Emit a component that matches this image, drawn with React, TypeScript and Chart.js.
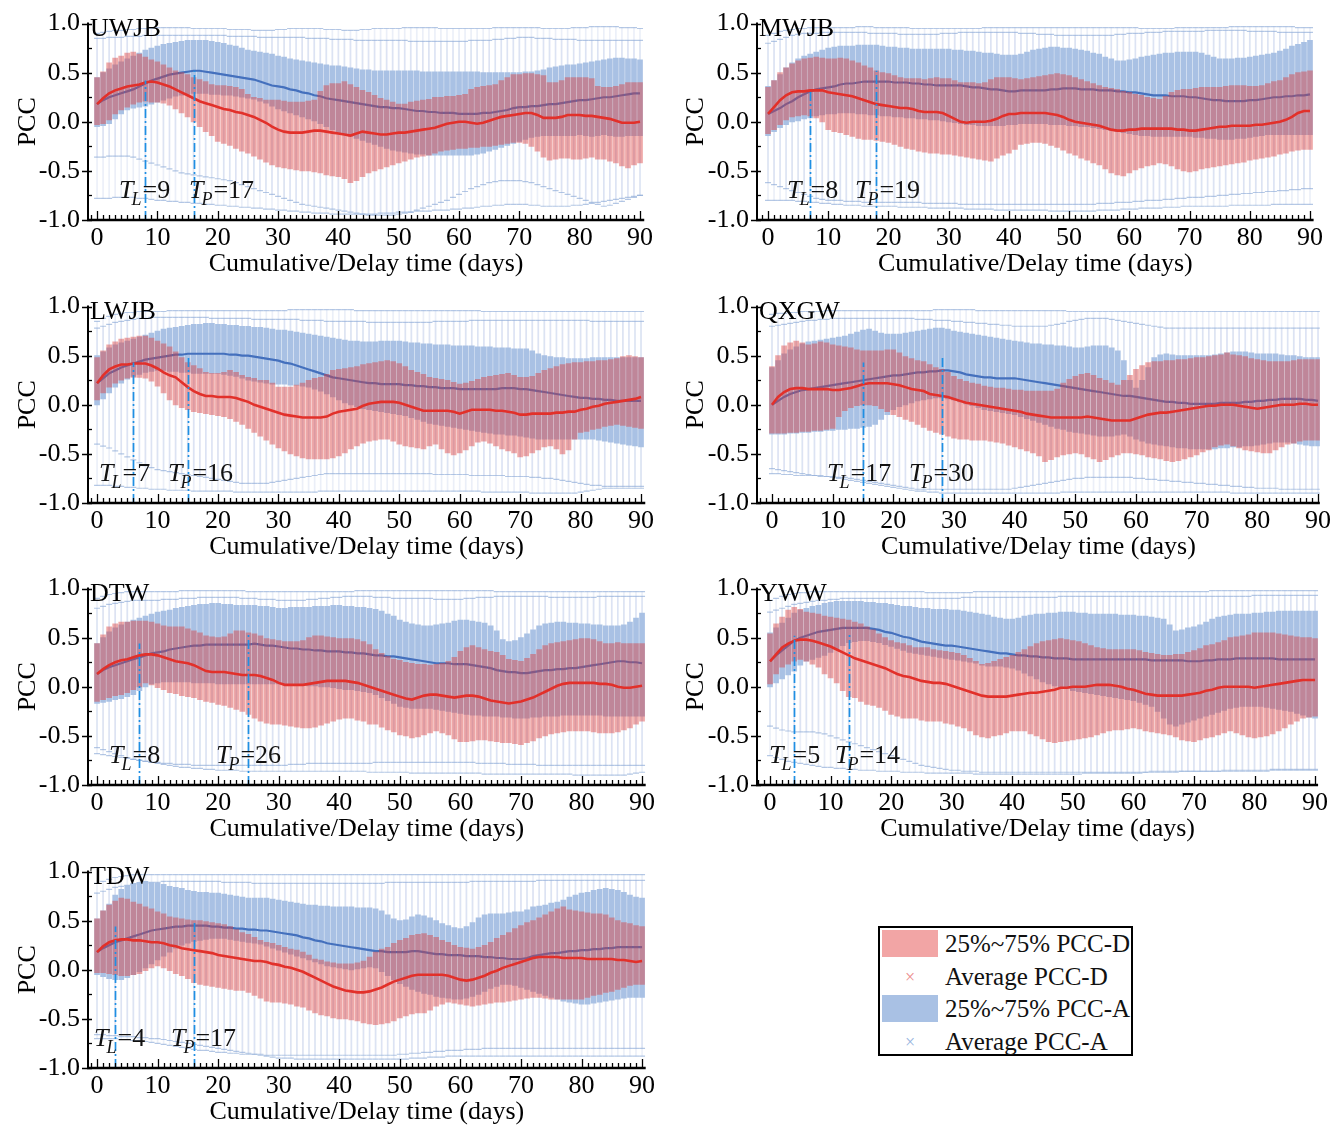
import React, { useEffect, useRef } from "react";
import { Chart, registerables } from "chart.js";

Chart.register(...registerables);

// ---------------- DATA (PCC values in hundredths, one value per day 0..90) ----------------
const DAYS = Array.from({ length: 91 }, (_, i) => i);
const PANEL_NAMES = ["UWJB", "MWJB", "LWJB", "QXGW", "DTW", "YWW", "TDW"];
const T_L = [9, 8, 7, 17, 8, 5, 4];
const T_P = [17, 19, 16, 30, 26, 14, 17];
const T_L_DAY = [8, 7, 6, 15, 7, 4, 3];
const T_P_DAY = [16, 18, 15, 28, 25, 13, 16];
const T_L_TOP = [0.42, 0.33, 0.43, 0.43, 0.44, 0.52, 0.44];
const T_P_TOP = [0.52, 0.52, 0.48, 0.48, 0.54, 0.54, 0.5];
const X_TICKS = [0, 10, 20, 30, 40, 50, 60, 70, 80, 90];
const Y_TICKS = [-1, -0.5, 0, 0.5, 1];
const X_TITLE = "Cumulative/Delay time (days)";
const Y_TITLE = "PCC";

// ---- UWJB ----
const UWJB_D_Q3 = [45,51,60,65,67,70,71,69,66,63, 61,58,55,52,50,48,45,43,41,38, 37,37,36,35,33,28,25,24,22,22, 22,21,20,20,20,21,22,31,37,39, 39,41,38,35,32,30,27,24,22,20, 18,18,20,21,22,23,25,25,26,26, 27,28,33,35,36,37,38,42,45,48, 48,49,49,48,47,40,40,42,45,45, 45,45,44,36,35,35,36,38,40,40, 40];
const UWJB_D_Q1 = [-3,-2,2,8,12,15,18,20,21,20, 20,19,17,13,9,5,0,-5,-10,-14, -20,-22,-24,-27,-30,-32,-35,-38,-41,-44, -46,-47,-48,-49,-50,-50,-51,-52,-54,-55, -56,-58,-62,-60,-56,-52,-50,-48,-46,-44, -42,-40,-38,-36,-35,-34,-32,-30,-29,-28, -27,-27,-26,-26,-25,-25,-24,-23,-22,-21, -21,-22,-25,-30,-36,-39,-38,-37,-37,-38, -38,-37,-36,-38,-38,-40,-42,-45,-47,-44, -42];
const UWJB_A_Q3 = [45,50,54,58,61,64,67,70,73,75, 77,79,80,81,82,83,83,83,83,82, 81,80,78,77,75,73,72,71,70,69, 67,66,64,63,62,61,60,59,58,57, 57,56,55,54,53,53,52,52,52,52, 52,52,52,52,51,51,51,51,51,51, 51,51,51,51,50,50,50,50,50,50, 50,51,51,52,53,55,56,57,58,58, 59,60,61,62,63,64,65,65,64,64, 63];
const UWJB_A_Q1 = [-5,-4,-2,3,8,12,14,15,16,18, 20,22,24,26,27,28,29,29,29,28, 28,27,27,26,25,24,23,21,19,16, 13,11,9,7,5,3,1,-2,-5,-8, -11,-13,-15,-17,-19,-21,-23,-25,-27,-29, -30,-31,-32,-33,-33,-34,-34,-34,-34,-34, -34,-34,-34,-33,-32,-30,-28,-26,-24,-22, -20,-18,-16,-15,-14,-14,-14,-14,-14,-14, -13,-14,-15,-14,-13,-14,-15,-15,-14,-14, -14];
const UWJB_D_AVG = [18,24,29,32,34,36,37,38,40,41, 40,38,36,33,30,27,24,21,19,17, 15,13,12,10,9,7,5,2,-1,-5, -8,-10,-11,-11,-11,-10,-9,-9,-10,-11, -12,-13,-14,-12,-10,-11,-12,-13,-13,-12, -11,-11,-10,-9,-8,-7,-6,-4,-2,-1, 0,0,-1,-2,-1,1,3,5,6,7, 8,9,9,7,4,4,4,5,7,7, 7,6,6,5,4,3,1,-1,-1,-1, 0];
const UWJB_A_AVG = [18,22,25,27,29,31,33,36,39,42, 44,46,48,49,50,51,52,52,51,50, 49,48,47,46,45,44,43,41,39,37, 36,35,33,32,30,29,27,26,24,23, 22,21,20,19,18,17,16,15,15,14, 14,13,12,11,11,10,10,9,9,9, 8,8,8,8,9,9,10,11,12,14, 15,15,16,16,17,18,18,19,20,21, 22,22,23,24,25,25,26,27,28,29, 29];
const UWJB_A_MAX = [90,91,92,93,93,94,94,95,95,95, 96,96,96,96,96,96,95,95,95,95, 95,95,94,94,94,94,93,93,93,93, 94,94,95,95,95,95,95,95,94,94, 94,93,93,93,94,94,95,95,95,95, 95,96,96,96,96,96,96,95,95,95, 95,95,95,95,95,95,96,96,96,96, 96,96,96,96,95,95,95,95,95,96, 96,96,97,97,97,97,97,96,96,96, 95];
const UWJB_D_MAX = [85,85,86,86,86,87,87,87,88,88, 88,88,88,88,88,88,88,88,88,88, 88,88,87,87,87,87,87,86,86,86, 86,86,86,86,86,85,85,85,85,84, 84,84,84,83,83,83,83,83,83,83, 83,83,82,82,82,82,82,82,82,82, 82,82,83,83,83,83,84,84,85,85, 86,86,86,85,85,85,84,84,84,84, 83,83,83,83,83,83,83,83,83,83, 83];
const UWJB_A_MIN = [-78,-78,-78,-77,-77,-77,-77,-78,-78,-79, -80,-80,-81,-81,-82,-82,-83,-83,-84,-84, -85,-85,-86,-86,-87,-87,-88,-88,-89,-89, -90,-90,-91,-91,-92,-92,-93,-93,-93,-94, -94,-94,-94,-94,-94,-94,-94,-93,-93,-93, -92,-92,-92,-91,-91,-91,-90,-90,-90,-89, -89,-88,-88,-87,-86,-86,-85,-85,-84,-84, -84,-84,-85,-85,-86,-86,-86,-86,-86,-85, -85,-84,-83,-82,-81,-80,-79,-78,-77,-76, -75];
const UWJB_D_MIN = [-36,-36,-35,-35,-35,-35,-36,-38,-40,-42, -44,-46,-48,-50,-52,-53,-54,-55,-56,-57, -58,-59,-60,-62,-64,-66,-68,-70,-72,-74, -76,-78,-80,-82,-84,-85,-86,-87,-88,-89, -90,-91,-92,-93,-94,-95,-95,-95,-95,-95, -94,-93,-92,-90,-88,-86,-84,-82,-80,-77, -74,-71,-68,-66,-64,-62,-61,-60,-60,-60, -60,-61,-62,-64,-66,-68,-70,-72,-74,-76, -78,-80,-82,-84,-86,-85,-83,-81,-79,-77, -75];

// ---- MWJB ----
const MWJB_D_Q3 = [35,42,50,55,59,62,64,65,66,65, 64,64,65,64,62,60,57,55,52,50, 49,47,45,44,44,44,43,44,45,44, 44,42,40,40,40,39,40,43,45,45, 45,44,43,44,45,46,47,48,49,48, 47,45,43,41,39,37,35,34,33,31, 30,28,27,25,24,23,26,30,32,33, 33,34,35,35,35,35,36,37,37,37, 36,36,37,39,41,42,45,48,50,51, 52];
const MWJB_D_Q1 = [-12,-8,-3,2,5,6,7,6,4,0, -8,-10,-11,-13,-15,-17,-18,-18,-19,-20, -21,-23,-25,-27,-28,-30,-31,-32,-32,-33, -33,-34,-35,-36,-37,-38,-39,-40,-37,-34, -32,-28,-23,-22,-21,-21,-22,-24,-26,-29, -32,-34,-37,-39,-42,-44,-48,-52,-54,-55, -52,-49,-47,-45,-44,-42,-43,-45,-48,-50, -51,-50,-48,-47,-46,-45,-44,-43,-42,-41, -39,-38,-37,-36,-35,-33,-32,-30,-29,-28, -28];
const MWJB_A_Q3 = [36,42,48,55,60,64,67,69,71,73, 75,76,77,77,77,78,78,78,78,77, 76,76,75,75,74,74,74,74,74,74, 74,73,73,72,72,71,70,70,69,68, 68,68,69,71,73,74,75,76,76,75, 75,74,73,72,70,69,66,64,62,62, 63,64,66,67,68,69,70,70,71,71, 71,71,70,68,66,64,64,64,65,65, 66,67,68,69,70,72,74,77,79,81, 83];
const MWJB_A_Q1 = [-14,-10,-6,-3,0,1,3,4,6,7, 8,8,9,9,9,8,8,7,7,6, 6,5,5,4,4,3,3,2,2,1, 0,-1,-2,-3,-3,-4,-4,-4,-4,-4, -3,-3,-2,-2,-2,-2,-2,-3,-3,-3, -4,-4,-5,-5,-6,-7,-8,-9,-10,-11, -12,-13,-14,-14,-15,-15,-15,-15,-15,-15, -15,-16,-16,-17,-17,-18,-18,-18,-17,-17, -16,-15,-14,-13,-13,-13,-13,-13,-13,-13, -13];
const MWJB_D_AVG = [8,15,22,27,30,31,31,32,32,32, 30,29,28,27,26,24,22,20,18,17, 16,15,14,14,13,11,10,10,10,9, 6,3,0,-1,0,0,0,1,3,6, 8,8,9,9,9,9,9,8,7,5, 2,0,-1,-2,-3,-4,-6,-8,-9,-9, -8,-8,-7,-7,-7,-7,-7,-7,-8,-8, -9,-9,-8,-7,-6,-5,-5,-4,-4,-4, -4,-3,-3,-2,-1,0,2,5,9,11, 11];
const MWJB_A_AVG = [8,11,14,18,21,25,28,31,33,34, 35,36,38,39,39,40,41,41,41,41, 41,40,40,40,39,39,38,38,37,37, 37,37,37,36,35,35,34,33,33,32, 31,31,32,32,32,32,32,33,33,34, 34,34,33,33,33,32,32,32,31,31, 30,30,29,28,27,27,27,26,26,26, 25,25,24,23,22,22,21,21,21,21, 22,22,23,24,25,25,26,26,27,27, 28];
const MWJB_A_MAX = [88,90,92,93,94,95,95,96,96,96, 96,96,96,96,96,97,97,97,96,96, 96,96,96,96,95,95,95,95,95,95, 95,95,95,95,95,95,96,96,96,96, 96,96,96,96,96,96,96,96,96,96, 96,96,96,96,96,96,96,96,96,96, 96,96,95,95,95,95,95,95,96,96, 96,96,96,96,96,96,96,97,97,97, 97,97,97,97,97,97,97,97,96,96, 96];
const MWJB_D_MAX = [80,82,84,86,88,89,90,90,90,91, 91,91,91,91,91,91,91,90,90,90, 90,90,89,89,89,89,89,89,89,90, 90,90,91,91,91,91,91,91,91,91, 91,91,90,90,90,89,89,89,88,88, 88,88,88,88,88,88,88,88,89,89, 90,90,90,91,91,91,92,92,92,92, 92,92,92,93,93,93,93,93,93,93, 92,92,92,92,92,91,91,91,91,91, 91];
const MWJB_A_MIN = [-80,-80,-80,-80,-80,-81,-81,-82,-82,-83, -83,-84,-84,-85,-85,-85,-86,-86,-86,-86, -86,-86,-87,-87,-87,-87,-87,-88,-88,-88, -88,-88,-88,-89,-89,-89,-89,-89,-90,-90, -90,-90,-90,-90,-90,-90,-90,-91,-91,-91, -91,-91,-91,-91,-91,-90,-90,-90,-90,-89, -89,-89,-88,-88,-88,-88,-87,-87,-87,-86, -86,-86,-86,-86,-86,-86,-86,-85,-85,-85, -85,-85,-85,-85,-84,-84,-84,-84,-84,-84, -84];
const MWJB_D_MIN = [-62,-64,-66,-68,-70,-72,-74,-76,-78,-79, -80,-80,-80,-81,-81,-81,-82,-82,-82,-82, -82,-82,-82,-82,-82,-82,-83,-83,-83,-83, -83,-83,-84,-84,-84,-84,-84,-84,-84,-84, -84,-84,-84,-84,-84,-84,-84,-84,-84,-84, -84,-84,-84,-84,-84,-83,-83,-83,-82,-82, -82,-81,-81,-80,-80,-80,-79,-79,-78,-78, -77,-77,-77,-76,-76,-75,-75,-74,-74,-73, -73,-72,-72,-71,-71,-70,-70,-69,-69,-68, -68];

// ---- LWJB ----
const LWJB_D_Q3 = [48,55,61,64,67,68,69,70,70,68, 65,62,59,54,48,43,40,37,33,32, 32,33,35,33,30,28,27,25,25,22, 18,18,18,20,22,25,27,28,31,35, 36,37,38,39,41,42,43,44,45,44, 42,39,35,33,31,28,27,26,25,23, 21,22,24,26,28,29,30,31,32,30, 28,28,29,32,35,37,39,41,42,43, 43,44,44,45,45,46,47,49,50,49, 48];
const LWJB_D_Q1 = [5,12,18,22,25,27,28,28,27,24, 19,12,5,0,-3,-5,-7,-8,-9,-10, -11,-12,-14,-17,-20,-24,-28,-32,-36,-40, -44,-47,-50,-52,-54,-55,-55,-55,-55,-54, -52,-49,-45,-42,-39,-37,-36,-35,-35,-37, -40,-42,-43,-44,-45,-42,-40,-45,-49,-51, -49,-46,-42,-38,-37,-39,-42,-45,-47,-49, -53,-52,-49,-46,-43,-42,-45,-50,-46,-35, -28,-27,-25,-24,-22,-21,-20,-21,-22,-23, -24];
const LWJB_A_Q3 = [50,54,58,61,63,65,67,69,71,73, 75,77,78,79,80,81,82,82,83,83, 82,82,81,81,80,80,79,79,78,77, 76,76,75,74,73,72,71,70,69,68, 67,66,65,65,64,64,64,65,65,65, 65,64,63,63,62,62,61,61,61,60, 60,60,60,59,59,59,58,58,58,57, 57,57,55,52,50,49,48,48,47,47, 47,47,48,48,48,48,48,48,48,48, 48];
const LWJB_A_Q1 = [0,6,12,18,22,26,29,31,33,34, 35,35,34,34,33,33,32,32,32,32, 32,31,30,29,27,25,24,23,22,21, 21,21,20,20,19,18,16,14,11,8, 5,2,0,-2,-4,-5,-6,-7,-8,-9, -10,-11,-13,-15,-17,-19,-20,-21,-22,-23, -24,-25,-26,-27,-28,-29,-30,-30,-31,-31, -32,-33,-34,-35,-35,-35,-35,-35,-35,-35, -35,-35,-35,-36,-37,-38,-39,-40,-41,-42, -43];
const LWJB_D_AVG = [22,30,36,39,41,41,42,42,42,40, 37,33,30,28,23,18,14,11,9,9, 8,8,8,7,5,3,0,-2,-4,-6, -8,-10,-11,-12,-13,-13,-13,-13,-12,-9, -7,-6,-5,-4,-1,1,2,3,3,3, 2,0,-2,-4,-6,-6,-6,-6,-6,-7, -9,-7,-5,-5,-5,-5,-6,-6,-7,-8, -10,-10,-9,-9,-9,-9,-8,-8,-7,-7, -5,-4,-2,-1,1,2,3,4,5,6, 8];
const LWJB_A_AVG = [22,27,32,35,38,40,42,44,46,47, 48,49,50,51,51,52,52,52,52,52, 52,52,51,51,50,50,49,48,47,46, 45,43,42,40,38,36,34,32,30,28, 27,26,25,24,23,22,22,21,21,21, 21,20,20,19,19,18,18,17,17,17, 16,16,16,16,16,16,16,17,17,17, 16,16,15,14,13,12,11,10,9,8, 7,7,6,6,5,5,4,4,4,4, 4];
const LWJB_A_MAX = [85,88,90,92,93,94,94,95,95,95, 95,95,96,96,96,96,96,96,96,96, 96,96,96,96,96,96,96,96,96,96, 96,96,97,97,97,97,97,97,97,97, 97,97,97,96,96,96,96,96,96,96, 96,96,96,96,96,96,96,96,96,96, 96,96,96,96,95,95,95,95,95,95, 95,95,95,95,95,95,95,95,95,95, 95,95,95,95,95,95,95,95,95,95, 95];
const LWJB_D_MAX = [78,80,82,84,85,86,87,88,88,89, 89,89,89,89,89,89,89,89,89,88, 88,88,88,88,88,88,87,87,87,87, 87,87,87,87,86,86,86,86,85,85, 85,85,85,85,85,84,84,84,84,84, 84,84,84,84,84,84,85,85,85,85, 85,85,86,86,86,86,86,86,86,86, 86,86,86,86,86,86,86,86,86,86, 86,86,85,85,85,85,85,85,85,85, 85];
const LWJB_A_MIN = [-82,-82,-82,-83,-83,-84,-84,-85,-85,-86, -86,-86,-87,-87,-87,-87,-88,-88,-88,-88, -88,-88,-88,-89,-89,-89,-89,-89,-89,-89, -89,-89,-89,-89,-89,-89,-89,-88,-88,-88, -88,-88,-88,-88,-88,-88,-88,-88,-88,-88, -88,-88,-88,-88,-88,-88,-88,-88,-88,-88, -88,-88,-88,-88,-89,-89,-89,-89,-89,-89, -89,-89,-90,-90,-90,-90,-90,-90,-90,-90, -89,-88,-87,-86,-85,-85,-85,-85,-85,-85, -85];
const LWJB_D_MIN = [-40,-42,-44,-47,-50,-53,-56,-59,-62,-64, -66,-67,-68,-69,-70,-71,-72,-73,-74,-75, -76,-77,-78,-79,-80,-80,-80,-80,-80,-79, -78,-77,-76,-75,-74,-73,-72,-71,-70,-70, -70,-70,-70,-70,-70,-70,-70,-70,-70,-70, -70,-70,-70,-70,-70,-70,-71,-71,-71,-71, -71,-71,-72,-72,-72,-72,-72,-72,-73,-73, -73,-73,-74,-74,-75,-75,-76,-77,-78,-79, -80,-81,-82,-82,-83,-83,-83,-83,-83,-83, -83];

// ---- QXGW ----
const QXGW_D_Q3 = [39,50,60,63,65,63,61,62,64,63, 61,60,59,58,56,55,55,55,55,56, 56,53,49,47,45,44,41,38,36,33, 29,26,24,22,21,19,18,17,17,16, 15,15,14,14,14,14,14,16,22,26, 29,31,32,30,27,25,22,20,25,30, 36,40,43,44,44,45,45,46,46,47, 48,48,49,50,51,53,51,50,49,47, 46,45,44,44,44,44,45,46,46,46, 46];
const QXGW_D_Q1 = [-29,-29,-29,-28,-28,-27,-27,-26,-26,-25, -24,-12,-6,-3,-1,0,0,-1,-4,-7, -10,-12,-15,-17,-20,-23,-26,-28,-30,-32, -34,-35,-35,-36,-36,-36,-37,-38,-39,-41, -43,-45,-47,-49,-52,-58,-56,-53,-51,-50, -49,-50,-53,-55,-58,-56,-53,-51,-49,-49, -50,-51,-53,-54,-55,-57,-58,-57,-55,-53, -51,-48,-46,-43,-41,-40,-42,-44,-46,-47, -48,-49,-49,-46,-43,-40,-39,-37,-36,-36, -36];
const QXGW_A_Q3 = [38,45,52,56,59,62,64,65,66,67, 68,69,70,72,74,76,77,75,73,72, 72,72,73,74,75,76,77,78,78,77, 75,74,73,72,71,70,69,68,67,66, 65,64,63,62,62,61,61,60,60,59, 58,58,59,60,60,60,58,55,45,25, 17,25,38,48,51,52,51,50,50,50, 50,50,50,51,52,53,54,54,54,53, 52,52,52,52,51,50,50,49,48,48, 48];
const QXGW_A_Q1 = [-30,-30,-30,-29,-29,-28,-28,-27,-27,-26, -26,-25,-25,-24,-24,-23,-22,-20,-15,-10, -5,-2,0,2,4,5,6,7,7,6, 5,3,1,-1,-3,-5,-6,-7,-8,-9, -10,-12,-14,-16,-18,-20,-22,-24,-25,-27, -28,-29,-30,-31,-32,-32,-32,-31,-30,-32, -35,-37,-39,-40,-41,-42,-43,-44,-44,-45, -45,-45,-45,-45,-44,-44,-43,-43,-42,-42, -41,-40,-39,-38,-38,-38,-39,-40,-41,-42, -42];
const QXGW_D_AVG = [0,8,13,16,17,17,16,16,16,16, 15,15,16,17,19,21,22,22,22,22, 21,20,18,16,15,14,11,10,9,8, 6,4,2,1,0,-1,-2,-3,-4,-5, -6,-7,-9,-10,-11,-12,-13,-13,-13,-13, -13,-13,-12,-13,-14,-15,-16,-16,-16,-16, -14,-12,-10,-9,-8,-8,-7,-6,-5,-4, -3,-2,-1,-1,0,0,0,-1,-2,-3, -4,-3,-2,-1,0,0,0,1,1,0, 0];
const QXGW_A_AVG = [0,4,8,11,13,15,16,17,18,19, 20,21,22,23,24,25,26,27,28,29, 30,30,31,32,33,33,34,34,35,35, 34,33,31,30,29,28,28,27,27,27, 27,26,25,24,23,22,21,20,19,18, 17,16,15,14,13,12,11,10,9,9, 8,7,6,5,4,3,3,2,2,1, 1,1,1,1,2,2,2,2,3,3, 4,4,5,5,6,6,6,6,5,5, 4];
const QXGW_A_MAX = [92,93,93,94,94,95,95,95,95,96, 96,96,96,96,96,96,96,96,96,96, 96,96,96,96,96,96,96,97,97,97, 97,97,97,97,96,96,96,96,96,96, 96,96,96,96,96,96,96,96,96,95, 95,95,95,95,95,95,95,95,95,95, 95,95,95,95,95,95,95,95,95,95, 95,95,95,95,95,95,95,95,95,95, 95,95,95,95,95,95,95,95,95,95, 95];
const QXGW_D_MAX = [80,81,82,83,84,85,86,86,87,87, 88,88,88,88,88,88,88,88,88,88, 88,88,88,88,87,87,87,86,86,86, 85,85,84,84,83,83,82,82,81,81, 80,80,80,80,80,80,81,82,83,85, 86,87,88,88,88,88,87,86,85,84, 83,82,81,80,79,78,78,78,78,78, 78,78,78,78,78,78,78,78,78,78, 78,78,78,78,78,78,78,78,78,78, 78];
const QXGW_A_MIN = [-65,-66,-67,-68,-69,-70,-71,-72,-72,-73, -74,-75,-76,-77,-78,-79,-80,-81,-82,-83, -84,-85,-86,-87,-88,-88,-89,-89,-90,-90, -90,-90,-90,-90,-90,-90,-90,-90,-90,-90, -90,-90,-90,-90,-90,-90,-90,-90,-89,-89, -89,-89,-89,-89,-89,-89,-89,-89,-89,-89, -89,-89,-89,-89,-89,-89,-89,-89,-89,-89, -89,-89,-89,-89,-89,-89,-90,-90,-90,-90, -90,-90,-90,-90,-90,-90,-90,-90,-90,-90, -90];
const QXGW_D_MIN = [-70,-70,-71,-71,-72,-72,-72,-72,-73,-73, -73,-74,-74,-75,-76,-77,-78,-79,-80,-81, -82,-83,-84,-85,-86,-86,-86,-86,-86,-86, -86,-86,-86,-86,-86,-86,-86,-86,-86,-86, -85,-84,-83,-82,-81,-80,-79,-78,-77,-76, -75,-75,-74,-74,-74,-74,-74,-74,-74,-74, -75,-75,-76,-76,-77,-77,-78,-78,-79,-79, -80,-80,-81,-81,-82,-82,-83,-83,-84,-84, -85,-85,-85,-85,-86,-86,-86,-86,-86,-86, -86];

// ---- DTW ----
const DTW_D_Q3 = [44,53,61,64,66,66,67,67,67,66, 64,62,61,61,61,59,57,55,52,51, 50,51,54,57,57,55,54,52,49,48, 47,46,46,46,47,50,52,52,51,50, 49,49,49,48,46,43,38,34,31,28, 27,25,24,23,23,22,23,24,26,30, 36,40,42,40,38,36,35,32,28,27, 26,29,33,38,42,44,45,46,47,48, 49,49,48,46,44,44,45,44,44,44, 44];
const DTW_D_Q1 = [-15,-13,-11,-9,-8,-6,-3,0,4,2, -1,-3,-6,-7,-9,-10,-11,-13,-15,-16, -18,-19,-21,-23,-25,-28,-32,-35,-37,-38, -38,-39,-40,-41,-42,-42,-41,-39,-37,-35, -33,-32,-32,-34,-35,-38,-38,-41,-44,-46, -49,-50,-52,-51,-49,-47,-45,-47,-49,-53, -56,-56,-55,-54,-54,-55,-56,-57,-57,-58, -59,-57,-55,-52,-50,-48,-47,-46,-45,-45, -45,-45,-46,-47,-47,-47,-46,-44,-42,-38, -35];
const DTW_A_Q3 = [44,50,56,60,63,66,68,70,72,74, 76,77,78,80,81,82,83,84,84,85, 85,84,84,83,83,83,83,82,82,81, 80,80,81,81,81,81,82,82,82,83, 83,82,82,81,81,80,79,77,74,72, 68,66,64,63,62,62,63,64,65,67, 68,68,67,66,65,62,57,48,46,47, 50,54,58,62,64,65,66,66,65,65, 64,64,63,63,62,62,62,63,66,70, 75];
const DTW_A_Q1 = [-17,-16,-15,-13,-12,-10,-8,-4,0,3, 4,5,5,5,5,5,4,4,4,4, 3,3,3,3,3,3,3,3,3,3, 3,3,3,2,2,1,1,0,0,-1, -2,-3,-3,-4,-5,-6,-8,-11,-14,-17, -20,-21,-22,-22,-22,-22,-23,-24,-25,-26, -27,-28,-29,-29,-30,-30,-30,-31,-31,-32, -32,-32,-31,-31,-30,-30,-30,-29,-29,-29, -29,-29,-29,-29,-30,-30,-30,-30,-30,-30, -30];
const DTW_D_AVG = [13,18,22,25,27,28,30,32,33,33, 32,30,28,26,25,24,22,19,16,15, 15,15,14,13,12,12,12,11,9,7, 4,2,2,2,2,3,4,5,6,6, 6,6,5,4,2,0,-2,-4,-6,-8, -10,-12,-13,-11,-9,-8,-8,-9,-10,-11, -10,-9,-9,-10,-12,-14,-15,-16,-17,-16, -15,-13,-11,-8,-5,-2,1,3,4,4, 4,4,4,3,3,2,0,-1,-1,0, 1];
const DTW_A_AVG = [13,17,20,22,24,26,28,30,32,34, 35,36,38,39,40,41,42,42,43,43, 43,43,43,43,43,43,44,43,42,42, 41,40,39,39,38,38,37,37,36,36, 36,35,35,34,34,33,32,32,31,31, 30,29,28,27,26,25,24,24,24,23, 23,23,22,21,20,19,17,16,15,15, 14,14,15,16,17,17,18,18,19,19, 20,21,22,23,24,25,26,26,25,25, 24];
const DTW_A_MAX = [90,92,94,95,96,97,97,97,97,97, 97,97,97,97,98,98,98,98,98,98, 98,98,98,98,98,97,97,97,97,97, 97,97,97,97,97,97,97,97,97,97, 97,97,97,98,98,98,98,98,98,98, 98,98,98,98,98,98,98,98,98,98, 98,98,98,98,98,98,97,97,97,97, 97,97,97,97,97,97,97,97,97,97, 97,97,97,97,97,97,97,97,97,97, 97];
const DTW_D_MAX = [80,82,84,85,86,87,88,88,88,88, 88,89,89,89,90,90,90,91,91,91, 91,91,91,91,90,90,90,89,89,89, 88,88,88,88,88,89,89,90,90,91, 91,92,92,92,92,92,91,91,91,90, 90,90,90,90,90,90,89,89,89,89, 89,90,90,91,91,91,92,92,92,92, 92,92,92,92,92,91,91,91,91,91, 91,91,91,92,92,92,92,92,92,92, 92];
const DTW_A_MIN = [-62,-64,-66,-68,-70,-72,-74,-75,-76,-77, -78,-79,-80,-81,-82,-82,-83,-83,-84,-84, -85,-85,-85,-85,-86,-86,-86,-86,-86,-86, -86,-86,-86,-86,-86,-86,-86,-86,-86,-86, -86,-86,-86,-86,-86,-87,-87,-87,-87,-87, -87,-87,-88,-88,-88,-88,-88,-88,-88,-88, -88,-88,-88,-88,-89,-89,-89,-89,-89,-89, -89,-89,-89,-89,-89,-89,-89,-89,-89,-90, -90,-90,-90,-90,-90,-90,-90,-90,-89,-88, -87];
const DTW_D_MIN = [-68,-69,-70,-71,-72,-73,-74,-75,-76,-77, -77,-78,-78,-79,-79,-79,-80,-80,-80,-80, -80,-80,-80,-80,-80,-80,-80,-80,-80,-80, -80,-80,-79,-79,-79,-78,-78,-78,-78,-78, -78,-78,-78,-78,-78,-78,-77,-77,-77,-77, -77,-77,-77,-77,-77,-77,-77,-77,-77,-77, -77,-77,-77,-78,-78,-78,-78,-78,-79,-79, -79,-79,-79,-80,-80,-80,-80,-80,-80,-80, -80,-80,-80,-80,-80,-80,-80,-80,-80,-80, -80];

// ---- YWW ----
const YWW_D_Q3 = [54,64,71,78,81,79,76,75,74,72, 71,70,69,68,66,64,61,58,54,50, 47,45,44,42,40,40,40,38,37,36, 35,34,32,29,26,23,24,26,28,30, 32,35,38,41,44,46,47,48,49,48, 47,46,44,42,40,39,38,38,38,38, 38,37,35,34,33,32,32,33,33,35, 37,39,42,43,45,47,50,51,52,53, 55,55,55,55,54,53,52,51,50,50, 49];
const YWW_D_Q1 = [3,13,20,23,26,28,26,23,20,13, 9,4,-4,-10,-11,-15,-18,-19,-21,-24, -28,-30,-32,-32,-32,-34,-35,-35,-35,-37, -38,-40,-42,-45,-49,-51,-52,-50,-49,-47, -45,-45,-45,-48,-50,-53,-56,-57,-56,-55, -54,-53,-52,-51,-49,-47,-45,-44,-44,-43, -42,-43,-45,-46,-47,-48,-49,-51,-54,-55, -56,-54,-52,-51,-49,-47,-45,-47,-49,-51, -52,-51,-50,-48,-45,-42,-38,-35,-32,-31, -30];
const YWW_A_Q3 = [55,60,65,70,75,78,80,82,83,85, 86,87,87,87,87,87,86,86,85,85, 84,83,82,82,81,80,80,79,79,79, 78,78,77,76,75,74,73,71,70,69, 69,70,72,73,74,74,75,75,76,76, 76,75,75,74,74,74,74,74,73,73, 73,72,72,71,70,69,63,57,58,60, 61,63,66,69,71,72,73,74,74,74, 75,75,76,76,77,77,77,77,77,77, 77];
const YWW_A_Q1 = [0,4,8,12,16,22,26,28,30,32, 35,38,42,45,46,47,47,46,45,43, 41,39,37,35,34,33,32,31,30,29, 28,27,26,25,24,22,21,21,21,20, 19,17,14,11,8,5,3,1,0,-2, -4,-5,-6,-7,-8,-9,-10,-11,-12,-13, -14,-16,-18,-20,-25,-32,-38,-40,-38,-36, -34,-32,-30,-28,-26,-24,-22,-21,-20,-20, -20,-20,-21,-22,-23,-24,-25,-27,-29,-31, -32];
const YWW_D_AVG = [26,33,40,44,47,48,48,47,45,43, 41,38,35,32,29,27,25,23,21,19, 16,13,11,10,8,6,5,4,4,3, 1,-1,-3,-5,-7,-9,-10,-10,-10,-10, -9,-8,-7,-6,-6,-5,-4,-3,-1,-1, 0,0,0,1,2,2,2,1,0,-2, -3,-5,-7,-8,-9,-9,-9,-9,-9,-8, -7,-6,-4,-3,-1,0,0,0,0,0, -1,0,1,2,3,4,5,6,7,7, 7];
const YWW_A_AVG = [26,32,37,42,47,50,52,54,56,57, 58,59,60,60,60,60,60,59,58,56, 55,53,51,50,48,46,45,44,43,42, 42,41,40,39,38,37,36,35,34,34, 33,32,32,31,31,30,30,29,29,29, 28,28,28,28,28,28,28,28,28,28, 28,28,28,27,27,27,27,27,27,26, 26,26,27,27,28,28,28,29,29,29, 29,29,29,29,28,28,28,28,28,28, 28];
const YWW_A_MAX = [88,90,92,94,95,96,96,97,97,97, 97,97,97,97,97,97,97,97,97,97, 97,97,97,97,97,97,96,96,96,96, 96,96,96,96,97,97,97,97,97,97, 97,97,97,97,97,97,97,97,97,97, 97,97,97,97,97,97,97,97,97,97, 97,97,97,97,97,97,97,97,97,97, 97,97,97,98,98,98,98,98,98,98, 98,98,98,98,98,98,98,98,98,98, 98];
const YWW_D_MAX = [76,78,80,82,84,85,86,87,88,88, 89,89,90,90,90,90,90,90,90,90, 90,90,90,90,90,90,90,90,90,90, 90,90,91,91,91,91,91,91,91,91, 91,91,91,91,91,91,91,91,92,92, 92,92,92,92,92,92,92,92,92,92, 92,92,92,92,92,92,92,92,92,92, 92,92,92,92,92,92,92,92,92,92, 93,93,93,93,93,93,93,93,93,93, 93];
const YWW_A_MIN = [-70,-72,-74,-76,-77,-78,-79,-80,-81,-82, -82,-83,-83,-84,-84,-85,-85,-85,-86,-86, -86,-86,-87,-87,-87,-87,-88,-88,-88,-88, -88,-88,-88,-88,-89,-89,-89,-89,-89,-89, -89,-89,-89,-89,-89,-89,-89,-89,-89,-89, -89,-89,-88,-88,-88,-88,-88,-88,-88,-88, -88,-88,-87,-87,-87,-87,-87,-87,-86,-86, -86,-86,-86,-86,-86,-85,-85,-85,-85,-85, -85,-85,-85,-84,-84,-84,-84,-84,-84,-84, -84];
const YWW_D_MIN = [-40,-42,-44,-45,-46,-46,-46,-46,-47,-48, -50,-52,-54,-56,-58,-60,-62,-64,-66,-68, -70,-72,-74,-76,-78,-80,-81,-82,-83,-84, -85,-85,-86,-86,-86,-87,-87,-87,-87,-87, -87,-87,-87,-87,-87,-87,-87,-87,-87,-87, -87,-87,-87,-87,-87,-87,-87,-87,-87,-87, -87,-87,-87,-86,-86,-86,-86,-86,-86,-86, -86,-86,-86,-86,-86,-86,-86,-86,-86,-86, -86,-86,-86,-85,-85,-85,-85,-85,-85,-85, -85];

// ---- TDW ----
const TDW_D_Q3 = [52,60,66,70,73,72,69,67,64,62, 59,57,54,53,52,51,50,50,49,48, 47,46,44,41,38,36,33,30,28,27, 25,23,21,20,18,15,11,10,8,7, 6,6,6,7,9,13,18,21,23,27, 30,32,35,36,37,35,33,30,28,25, 23,22,21,23,25,28,32,35,38,42, 45,48,50,53,56,59,62,64,61,60, 59,58,57,57,56,53,50,48,47,45, 44];
const TDW_D_Q1 = [-3,-3,-4,-5,-6,-6,-5,-4,-1,2, 4,2,-1,-4,-6,-9,-13,-15,-16,-17, -18,-19,-20,-21,-21,-23,-26,-29,-32,-33, -33,-34,-35,-37,-38,-41,-44,-46,-47,-49, -50,-50,-51,-52,-54,-55,-56,-55,-54,-52, -49,-47,-45,-44,-44,-41,-37,-35,-33,-34, -35,-36,-37,-36,-35,-34,-33,-33,-32,-31, -30,-29,-28,-28,-29,-30,-30,-30,-30,-30, -30,-28,-26,-25,-23,-22,-20,-18,-16,-15, -15];
const TDW_A_Q3 = [52,60,67,76,82,86,88,89,90,89, 88,87,85,84,83,81,80,79,79,78, 78,77,76,75,74,73,73,73,73,72, 71,70,69,68,67,66,66,65,65,64, 64,64,64,63,63,63,62,60,56,52, 50,51,54,56,55,53,50,47,45,43, 42,44,48,53,56,57,57,57,58,59, 59,61,64,65,66,68,69,71,74,76, 78,79,81,82,83,82,81,79,76,74, 73];
const TDW_A_Q1 = [-5,-7,-9,-10,-10,-8,-5,-2,2,6, 10,14,18,22,25,27,29,30,31,32, 32,32,31,30,29,28,27,26,24,22, 20,18,16,14,12,10,8,6,4,3, 2,1,0,1,2,3,2,-2,-6,-10, -14,-17,-20,-22,-24,-25,-27,-28,-29,-30, -30,-29,-27,-25,-22,-19,-17,-15,-15,-16, -18,-20,-22,-24,-26,-28,-30,-32,-33,-34, -35,-35,-34,-33,-32,-31,-30,-29,-28,-28, -28];
const TDW_D_AVG = [18,24,28,30,31,31,30,30,29,28, 28,27,25,24,22,21,20,19,18,17, 15,14,13,12,11,10,9,9,8,6, 5,3,2,0,-2,-5,-8,-11,-14,-17, -19,-21,-22,-23,-23,-22,-20,-18,-15,-12, -10,-8,-6,-5,-5,-5,-5,-5,-6,-8, -10,-11,-10,-8,-6,-3,-1,2,4,6, 8,10,12,13,13,13,13,12,12,12, 12,11,11,11,11,11,10,10,9,8, 9];
const TDW_A_AVG = [18,22,25,28,30,32,34,36,38,40, 41,42,43,44,44,45,45,45,45,44, 44,43,43,42,42,41,41,40,40,39, 38,37,36,35,33,32,30,29,27,26, 25,24,23,22,21,20,19,19,18,18, 18,18,19,19,18,17,16,16,15,15, 15,14,14,14,13,13,12,12,11,11, 11,12,14,15,16,17,17,18,19,19, 20,20,21,21,22,22,23,23,23,23, 23];
const TDW_A_MAX = [88,90,92,94,95,96,97,97,97,97, 97,97,97,97,97,97,97,97,97,97, 97,97,97,97,97,97,97,97,97,97, 97,97,97,97,97,97,97,97,97,97, 97,97,97,97,97,97,97,97,97,97, 97,97,97,97,97,97,97,97,97,97, 97,97,97,97,97,97,97,97,97,97, 97,97,97,97,97,97,97,97,97,97, 97,97,97,97,97,97,97,97,97,97, 97];
const TDW_D_MAX = [78,80,82,84,85,86,87,88,88,89, 89,90,90,90,90,90,90,90,90,90, 90,89,89,89,89,89,88,88,88,88, 88,88,88,88,88,88,88,88,88,88, 88,88,88,88,88,88,88,88,89,89, 89,89,89,89,89,89,89,89,89,89, 89,89,90,90,90,90,90,90,90,90, 90,90,90,91,91,91,91,91,91,91, 91,91,91,91,91,91,91,91,91,91, 91];
const TDW_A_MIN = [-70,-70,-70,-70,-71,-71,-72,-72,-73,-74, -75,-76,-77,-78,-79,-80,-81,-82,-82,-83, -84,-84,-85,-85,-86,-86,-86,-86,-87,-87, -87,-87,-87,-87,-87,-87,-87,-87,-87,-87, -87,-87,-87,-87,-87,-87,-87,-87,-87,-87, -86,-86,-85,-85,-84,-84,-83,-83,-82,-82, -82,-81,-81,-81,-80,-80,-80,-80,-80,-80, -80,-80,-80,-80,-80,-80,-80,-80,-80,-80, -80,-80,-80,-80,-80,-80,-80,-80,-80,-80, -80];
const TDW_D_MIN = [-66,-66,-67,-67,-68,-68,-68,-69,-69,-70, -70,-71,-72,-73,-74,-75,-76,-77,-78,-79, -80,-81,-82,-83,-84,-85,-86,-87,-88,-89, -90,-90,-90,-91,-91,-91,-91,-91,-91,-91, -91,-91,-91,-91,-91,-91,-91,-91,-91,-91, -91,-91,-90,-90,-90,-89,-89,-89,-88,-88, -88,-88,-88,-88,-88,-88,-88,-88,-88,-88, -88,-88,-88,-88,-88,-88,-88,-88,-88,-88, -88,-88,-88,-88,-88,-88,-88,-88,-88,-88, -88];

const SERIES = [
  { dQ1: UWJB_D_Q1, dQ3: UWJB_D_Q3, dAvg: UWJB_D_AVG, aQ1: UWJB_A_Q1, aQ3: UWJB_A_Q3, aAvg: UWJB_A_AVG, aMin: UWJB_A_MIN, aMax: UWJB_A_MAX, dMin: UWJB_D_MIN, dMax: UWJB_D_MAX },
  { dQ1: MWJB_D_Q1, dQ3: MWJB_D_Q3, dAvg: MWJB_D_AVG, aQ1: MWJB_A_Q1, aQ3: MWJB_A_Q3, aAvg: MWJB_A_AVG, aMin: MWJB_A_MIN, aMax: MWJB_A_MAX, dMin: MWJB_D_MIN, dMax: MWJB_D_MAX },
  { dQ1: LWJB_D_Q1, dQ3: LWJB_D_Q3, dAvg: LWJB_D_AVG, aQ1: LWJB_A_Q1, aQ3: LWJB_A_Q3, aAvg: LWJB_A_AVG, aMin: LWJB_A_MIN, aMax: LWJB_A_MAX, dMin: LWJB_D_MIN, dMax: LWJB_D_MAX },
  { dQ1: QXGW_D_Q1, dQ3: QXGW_D_Q3, dAvg: QXGW_D_AVG, aQ1: QXGW_A_Q1, aQ3: QXGW_A_Q3, aAvg: QXGW_A_AVG, aMin: QXGW_A_MIN, aMax: QXGW_A_MAX, dMin: QXGW_D_MIN, dMax: QXGW_D_MAX },
  { dQ1: DTW_D_Q1, dQ3: DTW_D_Q3, dAvg: DTW_D_AVG, aQ1: DTW_A_Q1, aQ3: DTW_A_Q3, aAvg: DTW_A_AVG, aMin: DTW_A_MIN, aMax: DTW_A_MAX, dMin: DTW_D_MIN, dMax: DTW_D_MAX },
  { dQ1: YWW_D_Q1, dQ3: YWW_D_Q3, dAvg: YWW_D_AVG, aQ1: YWW_A_Q1, aQ3: YWW_A_Q3, aAvg: YWW_A_AVG, aMin: YWW_A_MIN, aMax: YWW_A_MAX, dMin: YWW_D_MIN, dMax: YWW_D_MAX },
  { dQ1: TDW_D_Q1, dQ3: TDW_D_Q3, dAvg: TDW_D_AVG, aQ1: TDW_A_Q1, aQ3: TDW_A_Q3, aAvg: TDW_A_AVG, aMin: TDW_A_MIN, aMax: TDW_A_MAX, dMin: TDW_D_MIN, dMax: TDW_D_MAX },
];

// ---------------- LAYOUT / STYLE ----------------
const CANVAS_W = 667;
const CANVAS_H = 282;
const PLOT_TOP = 22;
const PLOT_H = 198;
// tlDx / tpDx: horizontal offset (px) of the start of each "T=" label from its dash-dot line
const LAYOUT = [
  { left: 0, top: 0, axisLeft: 88, xMin: -1.5, xMax: 90.7, ppd: 6.033, tlDx: -26, tpDx: -5 },
  { left: 668, top: 0, axisLeft: 89, xMin: -1.83, xMax: 90.6, ppd: 6.022, tlDx: -23, tpDx: -21 },
  { left: 0, top: 283, axisLeft: 88, xMin: -1.5, xMax: 90.7, ppd: 6.044, tlDx: -34, tpDx: -20 },
  { left: 668, top: 283, axisLeft: 89, xMin: -2.47, xMax: 90.3, ppd: 6.067, tlDx: -36, tpDx: -33 },
  { left: 0, top: 565, axisLeft: 88, xMin: -1.49, xMax: 90.6, ppd: 6.056, tlDx: -30, tpDx: -32 },
  { left: 668, top: 565, axisLeft: 89, xMin: -2.15, xMax: 90.5, ppd: 6.056, tlDx: -25, tpDx: -14 },
  { left: 0, top: 848, axisLeft: 88, xMin: -1.49, xMax: 90.6, ppd: 6.056, tlDx: -21, tpDx: -23 },
];
const SERIF = "'Liberation Serif', 'Times New Roman', Times, serif";
const FONT_SIZE = 26;
const LABEL_LEVEL = -0.78;
const COLORS = {
  dBar: "rgba(218, 62, 62, 0.45)",
  aBar: "rgb(169, 193, 228)",
  dLine: "#e2302a",
  aLine: "#4470bd",
  whisker: "rgba(170, 188, 224, 0.24)",
  cap: "rgba(150, 176, 218, 0.7)",
  tLine: "#1f8fe3",
};

const toPts = (arr: number[]) => arr.map((v, i) => ({ x: DAYS[i], y: v / 100 }));
const toBars = (lo: number[], hi: number[]) => lo.map((v, i) => ({ x: DAYS[i], y: [v / 100, hi[i] / 100] }));

function makeDecor(idx: number) {
  const L = LAYOUT[idx];
  return {
    id: "decor" + idx,
    afterDatasetsDraw(chart: any) {
      const { ctx, scales } = chart;
      const xs = scales.x;
      const ys = scales.y;
      const yBottom = ys.getPixelForValue(-1);
      const lines = [
        { day: T_L_DAY[idx], top: T_L_TOP[idx], sub: "L", val: T_L[idx], dx: L.tlDx },
        { day: T_P_DAY[idx], top: T_P_TOP[idx], sub: "P", val: T_P[idx], dx: L.tpDx },
      ];
      ctx.save();
      ctx.strokeStyle = COLORS.tLine;
      ctx.lineWidth = 1.7;
      ctx.setLineDash([9, 3, 2, 3]);
      for (const ln of lines) {
        const px = Math.round(xs.getPixelForValue(ln.day)) + 0.5;
        ctx.beginPath();
        ctx.moveTo(px, yBottom);
        ctx.lineTo(px, ys.getPixelForValue(ln.top));
        ctx.stroke();
      }
      ctx.setLineDash([]);
      ctx.fillStyle = "#111";
      ctx.textAlign = "left";
      ctx.textBaseline = "alphabetic";
      const yb = ys.getPixelForValue(LABEL_LEVEL);
      for (const ln of lines) {
        const px = Math.round(xs.getPixelForValue(ln.day));
        const x0 = px + ln.dx;
        ctx.font = `italic ${FONT_SIZE}px ${SERIF}`;
        const wT = ctx.measureText("T").width;
        ctx.fillText("T", x0, yb);
        ctx.font = `italic 18px ${SERIF}`;
        const wS = ctx.measureText(ln.sub).width;
        ctx.fillText(ln.sub, x0 + wT - 2, yb + 7);
        ctx.font = `${FONT_SIZE}px ${SERIF}`;
        ctx.fillText("=" + ln.val, x0 + wT + wS - 1, yb);
      }
      ctx.restore();
    },
    afterDraw(chart: any) {
      const { ctx, chartArea: ca, scales } = chart;
      const xs = scales.x;
      const ys = scales.y;
      ctx.save();
      ctx.strokeStyle = "#000";
      ctx.lineWidth = 2;
      ctx.beginPath();
      ctx.moveTo(ca.left, ca.top - 1);
      ctx.lineTo(ca.left, ca.bottom + 1);
      ctx.stroke();
      ctx.lineWidth = 2.5;
      ctx.beginPath();
      ctx.moveTo(ca.left - 1, ca.bottom);
      ctx.lineTo(ca.right, ca.bottom);
      ctx.stroke();
      ctx.lineWidth = 1.3;
      for (let d = Math.ceil(xs.min); d <= Math.floor(xs.max); d++) {
        const px = Math.round(xs.getPixelForValue(d)) + 0.5;
        const len = d % 10 === 0 ? 9 : 5;
        ctx.beginPath();
        ctx.moveTo(px, ca.bottom);
        ctx.lineTo(px, ca.bottom - len);
        ctx.stroke();
      }
      for (let k = -4; k <= 4; k++) {
        const py = Math.round(ys.getPixelForValue(k / 4)) + 0.5;
        ctx.beginPath();
        ctx.moveTo(ca.left, py);
        ctx.lineTo(ca.left + 4, py);
        if (k % 2 === 0) {
          ctx.moveTo(ca.left, py);
          ctx.lineTo(ca.left - 6, py);
        }
        ctx.stroke();
      }
      ctx.fillStyle = "#000";
      ctx.font = `${FONT_SIZE}px ${SERIF}`;
      ctx.textAlign = "left";
      ctx.textBaseline = "alphabetic";
      ctx.fillText(PANEL_NAMES[idx], ca.left + 2, ys.getPixelForValue(1) + 12);
      ctx.textAlign = "center";
      ctx.textBaseline = "middle";
      ctx.fillText(X_TITLE, (ca.left + ca.right) / 2, ca.bottom + 44);
      ctx.translate(28, (ca.top + ca.bottom) / 2);
      ctx.rotate(-Math.PI / 2);
      ctx.fillText(Y_TITLE, 0, 0);
      ctx.restore();
    },
  };
}

function Panel({ idx }: { idx: number }) {
  const ref = useRef<HTMLCanvasElement | null>(null);
  const L = LAYOUT[idx];
  useEffect(() => {
    const s = SERIES[idx];
    const right = L.axisLeft + (L.xMax - L.xMin) * L.ppd;
    const capDs = (arr: number[]) => ({
      type: "line",
      data: toPts(arr),
      showLine: false,
      pointStyle: "line",
      pointRadius: 3,
      pointBorderWidth: 1.2,
      pointBorderColor: COLORS.cap,
      pointBackgroundColor: COLORS.cap,
      order: 9,
    });
    const chart = new Chart(ref.current as HTMLCanvasElement, {
      type: "bar",
      data: {
        datasets: [
          { type: "bar", data: toBars(s.aMin, s.aMax), backgroundColor: COLORS.whisker, barThickness: 1, grouped: false, order: 10 },
          { type: "bar", data: toBars(s.dMin, s.dMax), backgroundColor: COLORS.whisker, barThickness: 1, grouped: false, order: 10 },
          capDs(s.aMax),
          capDs(s.dMax),
          capDs(s.aMin),
          capDs(s.dMin),
          { type: "bar", data: toBars(s.aQ1, s.aQ3), backgroundColor: COLORS.aBar, barThickness: 5, grouped: false, order: 8 },
          { type: "line", data: toPts(s.aAvg), borderColor: COLORS.aLine, borderWidth: 2.2, pointRadius: 0, tension: 0, order: 7 },
          { type: "bar", data: toBars(s.dQ1, s.dQ3), backgroundColor: COLORS.dBar, barThickness: 5, grouped: false, order: 6 },
          { type: "line", data: toPts(s.dAvg), borderColor: COLORS.dLine, borderWidth: 2.6, pointRadius: 0, tension: 0, order: 5 },
        ] as any,
      },
      options: {
        animation: false,
        responsive: false,
        devicePixelRatio: 1,
        events: [],
        layout: { padding: { top: PLOT_TOP, left: 0, bottom: 0, right: CANVAS_W - right } },
        plugins: { legend: { display: false }, tooltip: { enabled: false }, title: { display: false } },
        scales: {
          x: {
            type: "linear",
            min: L.xMin,
            max: L.xMax,
            offset: false,
            afterBuildTicks: (sc: any) => { sc.ticks = X_TICKS.map((v) => ({ value: v })); },
            afterFit: (sc: any) => { sc.height = CANVAS_H - PLOT_TOP - PLOT_H; },
            grid: { display: false, drawTicks: false },
            border: { display: false },
            ticks: { font: { family: SERIF, size: FONT_SIZE }, color: "#000", padding: 3, autoSkip: false, maxRotation: 0, callback: (v: any) => String(v) },
          },
          y: {
            type: "linear",
            min: -1,
            max: 1,
            afterBuildTicks: (sc: any) => { sc.ticks = Y_TICKS.map((v) => ({ value: v })); },
            afterFit: (sc: any) => { sc.width = L.axisLeft; },
            grid: { display: false, drawTicks: false },
            border: { display: false },
            ticks: { font: { family: SERIF, size: FONT_SIZE }, color: "#000", padding: 8, callback: (v: any) => Number(v).toFixed(1) },
          },
        },
      } as any,
      plugins: [makeDecor(idx)],
    });
    return () => chart.destroy();
  }, [idx]);
  return (
    <canvas
      ref={ref}
      width={CANVAS_W}
      height={CANVAS_H}
      style={{ position: "absolute", left: L.left, top: L.top, width: CANVAS_W, height: CANVAS_H }}
    />
  );
}

const LEGEND_ITEMS = [
  { kind: "box", color: "rgb(242, 165, 165)", label: "25%~75% PCC-D" },
  { kind: "mark", color: "rgb(236, 140, 140)", label: "Average PCC-D" },
  { kind: "box", color: "rgb(169, 193, 228)", label: "25%~75% PCC-A" },
  { kind: "mark", color: "rgb(150, 180, 222)", label: "Average PCC-A" },
];

function Legend() {
  return (
    <div
      style={{
        position: "absolute",
        left: 878,
        top: 926,
        width: 255,
        height: 130,
        border: "2px solid #000",
        boxSizing: "border-box",
        background: "#fff",
        fontFamily: SERIF,
        fontSize: 25,
        color: "#111",
      }}
    >
      {LEGEND_ITEMS.map((it, i) => (
        <div key={i} style={{ position: "absolute", left: 0, top: 2 + i * 32.5, height: 30, width: 250 }}>
          {it.kind === "box" ? (
            <div style={{ position: "absolute", left: 2, top: 0, width: 56, height: 27, background: it.color }} />
          ) : (
            <div style={{ position: "absolute", left: 22, top: 2, width: 16, lineHeight: "24px", fontSize: 18, color: it.color, textAlign: "center" }}>×</div>
          )}
          <div style={{ position: "absolute", left: 65, top: 0, lineHeight: "27px", whiteSpace: "nowrap" }}>{it.label}</div>
        </div>
      ))}
    </div>
  );
}

export default function App() {
  return (
    <div style={{ position: "absolute", left: 0, top: 0, width: 1335, height: 1130, background: "#fff", overflow: "hidden" }}>
      {PANEL_NAMES.map((_, i) => (
        <Panel key={i} idx={i} />
      ))}
      <Legend />
    </div>
  );
}
